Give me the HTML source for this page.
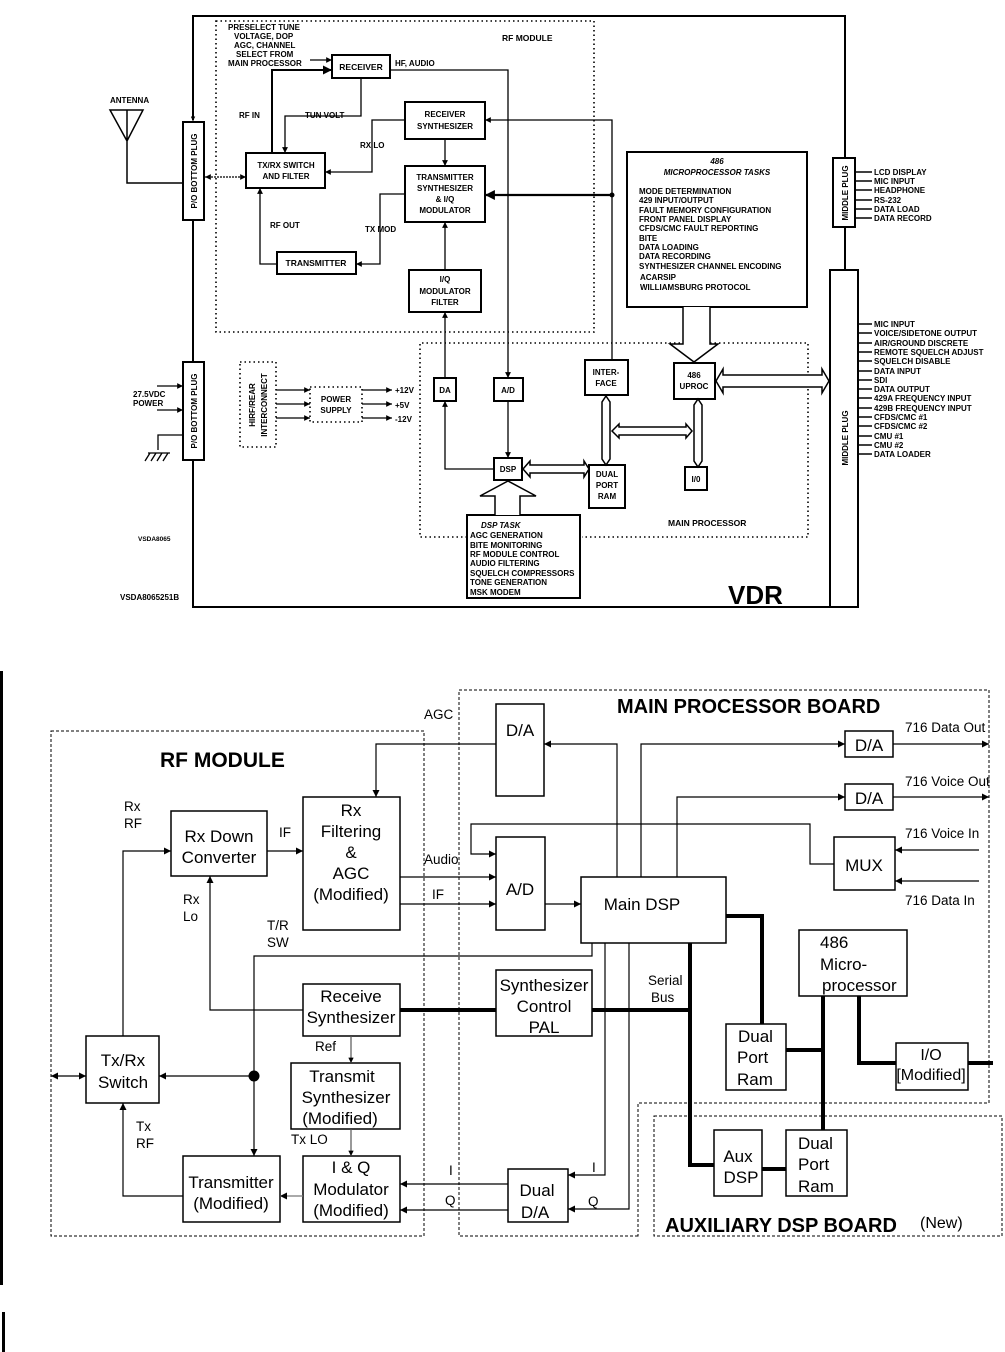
<!DOCTYPE html>
<html><head><meta charset="utf-8"><style>
html,body{margin:0;padding:0;background:#fff}
svg{display:block}
.t{font-family:"Liberation Sans",Arial,sans-serif;font-weight:bold;font-size:8px;fill:#000}
.b{font-family:"Liberation Sans",Arial,sans-serif;fill:#000}
</style></head><body>
<svg width="1005" height="1352" viewBox="0 0 1005 1352" xmlns="http://www.w3.org/2000/svg">
<defs>
<marker id="a" viewBox="0 0 10 10" refX="10" refY="5" markerWidth="6" markerHeight="6" orient="auto-start-reverse"><path d="M0,0L10,5L0,10z"/></marker>
<marker id="s" viewBox="0 0 10 10" refX="10" refY="5" markerWidth="4.5" markerHeight="4.5" orient="auto-start-reverse"><path d="M0,0L10,5L0,10z"/></marker>
</defs>

<!-- ============ TOP DIAGRAM ============ -->
<g fill="none" stroke="#000" stroke-width="2">
<path d="M193,120 V16 H845 V158"/>
<path d="M193,220 V362"/>
<path d="M193,460 V607 H844"/>
<path d="M845,227 V270"/>
</g>
<path d="M193,117 V121" stroke="#000" marker-end="url(#s)"/>
<!-- dotted boxes -->
<g fill="none" stroke="#000" stroke-width="1.6" stroke-dasharray="1.5,3">
<rect x="216" y="21" width="378" height="311"/>
<path d="M467,537 H420 V343 H808 V537 H582"/>
<rect x="310" y="387" width="52" height="35"/>
<rect x="240" y="362" width="36" height="85"/>
</g>
<!-- plugs -->
<g fill="#fff" stroke="#000" stroke-width="2">
<rect x="183" y="122" width="21" height="98"/>
<rect x="183" y="362" width="21" height="98"/>
<rect x="833" y="158" width="22" height="69"/>
<rect x="830" y="270" width="28" height="337"/>
</g>
<g class="t" font-size="9">
<text transform="translate(197,171) rotate(-90)" text-anchor="middle">P/O BOTTOM PLUG</text>
<text transform="translate(197,411) rotate(-90)" text-anchor="middle">P/O BOTTOM PLUG</text>
<text transform="translate(848,193) rotate(-90)" text-anchor="middle">MIDDLE PLUG</text>
<text transform="translate(848,438) rotate(-90)" text-anchor="middle">MIDDLE PLUG</text>
</g>
<text class="t" transform="translate(255,405) rotate(-90)" text-anchor="middle">HIRF/REAR</text>
<text class="t" transform="translate(267,405) rotate(-90)" text-anchor="middle">INTERCONNECT</text>
<!-- antenna -->
<g fill="none" stroke="#000" stroke-width="1.5">
<path d="M110,110 H143 L127,141 Z M127,110 V183 H183"/>
</g>
<text class="t" x="110" y="103">ANTENNA</text>
<!-- boxes -->
<g fill="#fff" stroke="#000" stroke-width="2">
<rect x="332" y="55" width="58" height="23"/>
<rect x="405" y="102" width="80" height="37"/>
<rect x="246" y="153" width="79" height="35"/>
<rect x="405" y="166" width="80" height="56"/>
<rect x="277" y="252" width="79" height="22"/>
<rect x="409" y="270" width="72" height="42"/>
<rect x="434" y="378" width="22" height="23"/>
<rect x="494" y="378" width="29" height="23"/>
<rect x="585" y="360" width="43" height="35"/>
<rect x="674" y="363" width="41" height="36"/>
<rect x="494" y="458" width="28" height="22"/>
<rect x="589" y="465" width="36" height="43"/>
<rect x="685" y="467" width="22" height="23"/>
<rect x="627" y="152" width="180" height="155"/>
<rect x="467" y="515" width="113" height="83"/>
</g>
<g class="t" text-anchor="middle">
<text x="361" y="70" font-size="8.5">RECEIVER</text>
<text x="445" y="117">RECEIVER</text><text x="445" y="129">SYNTHESIZER</text>
<text x="286" y="168">TX/RX SWITCH</text><text x="286" y="179">AND FILTER</text>
<text x="445" y="180">TRANSMITTER</text><text x="445" y="191">SYNTHESIZER</text><text x="445" y="202">&amp; I/Q</text><text x="445" y="213">MODULATOR</text>
<text x="316" y="266" font-size="8.5">TRANSMITTER</text>
<text x="445" y="282">I/Q</text><text x="445" y="294">MODULATOR</text><text x="445" y="305">FILTER</text>
<text x="445" y="393">DA</text><text x="508" y="393">A/D</text>
<text x="606" y="375">INTER-</text><text x="606" y="386">FACE</text>
<text x="694" y="378">486</text><text x="694" y="389">UPROC</text>
<text x="508" y="472">DSP</text>
<text x="607" y="477">DUAL</text><text x="607" y="488">PORT</text><text x="607" y="499">RAM</text>
<text x="696" y="482">I/0</text>
<text x="336" y="402">POWER</text><text x="336" y="413">SUPPLY</text>
<text x="717" y="164" font-style="italic">486</text>
<text x="717" y="175" font-style="italic">MICROPROCESSOR TASKS</text>
</g>
<g class="t" font-size="7.2">
<text x="639" y="194">MODE DETERMINATION</text>
<text x="639" y="203">429 INPUT/OUTPUT</text>
<text x="639" y="213">FAULT MEMORY CONFIGURATION</text>
<text x="639" y="222">FRONT PANEL DISPLAY</text>
<text x="639" y="231">CFDS/CMC FAULT REPORTING</text>
<text x="639" y="241">BITE</text>
<text x="639" y="250">DATA LOADING</text>
<text x="639" y="259">DATA RECORDING</text>
<text x="639" y="269">SYNTHESIZER CHANNEL ENCODING</text>
<text x="640" y="280">ACARSIP</text>
<text x="640" y="290">WILLIAMSBURG PROTOCOL</text>
<text x="481" y="528" font-size="8" font-style="italic">DSP TASK</text>
<text x="470" y="538">AGC GENERATION</text>
<text x="470" y="548">BITE MONITORING</text>
<text x="470" y="557">RF MODULE CONTROL</text>
<text x="470" y="566">AUDIO FILTERING</text>
<text x="470" y="576">SQUELCH COMPRESSORS</text>
<text x="470" y="585">TONE GENERATION</text>
<text x="470" y="595">MSK MODEM</text>
</g>
<!-- top labels -->
<g class="t" font-size="7.5">
<text x="228" y="30">PRESELECT TUNE</text>
<text x="234" y="39">VOLTAGE, DOP</text>
<text x="234" y="48">AGC, CHANNEL</text>
<text x="236" y="57">SELECT FROM</text>
<text x="228" y="66">MAIN PROCESSOR</text>
<text x="395" y="66">HF, AUDIO</text>
<text x="502" y="41" font-size="8.5">RF MODULE</text>
<text x="239" y="118">RF IN</text>
<text x="305" y="118">TUN VOLT</text>
<text x="360" y="148">RX LO</text>
<text x="270" y="228">RF OUT</text>
<text x="365" y="232">TX MOD</text>
<text x="133" y="397">27.5VDC</text>
<text x="133" y="406">POWER</text>
<text x="395" y="393">+12V</text>
<text x="395" y="408">+5V</text>
<text x="395" y="422">-12V</text>
<text x="138" y="541" font-size="6.5">VSDA8065</text>
<text x="120" y="600">VSDA8065251B</text>
<text x="668" y="526" font-size="8.5">MAIN PROCESSOR</text>
</g>
<text class="b" x="728" y="604" font-weight="bold" font-size="26">VDR</text>
<!-- top connectors -->
<g fill="none" stroke="#000" stroke-width="1.3">
<path d="M310,60 H332" marker-end="url(#s)"/>
<path d="M272,153 V70 H332" stroke-width="2" marker-end="url(#s)"/>
<path d="M361,78 V116 H285 V153" marker-end="url(#s)"/>
<path d="M390,70 H508 V378" marker-end="url(#s)"/>
<path d="M405,120 H372 V172 H325" marker-end="url(#s)"/>
<path d="M445,139 V166" marker-end="url(#s)"/>
<path d="M405,194 H380 V264 H356" marker-end="url(#s)"/>
<path d="M277,264 H260 V188" marker-end="url(#s)"/>
<path d="M445,270 V222" marker-end="url(#s)"/>
<path d="M445,378 V312" marker-end="url(#s)"/>
<path d="M612,360 V120 H485" marker-end="url(#s)"/>
<path d="M612,195 H485" stroke-width="2.2" marker-end="url(#s)"/>
<path d="M508,401 V458" marker-end="url(#s)"/>
<path d="M494,469 H445 V401" marker-end="url(#s)"/>
<path d="M205,177 H246" stroke-dasharray="2,1" marker-start="url(#s)" marker-end="url(#s)"/>
<path d="M157,386 H183" marker-end="url(#s)"/>
<path d="M157,410 H183" marker-end="url(#s)"/>
<path d="M183,435 H158 V450"/>
<path d="M276,390 H310" marker-end="url(#s)"/><path d="M276,404 H310" marker-end="url(#s)"/><path d="M276,418 H310" marker-end="url(#s)"/>
<path d="M362,390 H392" marker-end="url(#s)"/><path d="M362,404 H392" marker-end="url(#s)"/><path d="M362,418 H392" marker-end="url(#s)"/>
</g>
<circle cx="612" cy="195" r="2.5"/>
<path d="M148,453 H170 M150,453 L145,461 M156,453 L151,461 M162,453 L157,461 M168,453 L163,461" stroke="#000" stroke-width="1.3"/>
<!-- fat arrows -->
<g fill="#fff" stroke="#000" stroke-width="1.5">
<path d="M683,307 V344 H670 L694,362 L718,344 H710 V307"/>
<path d="M495,515 V496 H480 L508,481 L536,496 H520 V515"/>
<path d="M523,469 L530,461 V465 H584 V461 L589,469 L584,477 V473 H530 V477 Z"/>
<path d="M716,381 L723,369 V375 H822 V369 L829,381 L822,393 V387 H723 V393 Z"/>
<path d="M612,431 L619,424 V427 H686 V424 L692,431 L686,438 V435 H619 V438 Z"/>
<path d="M606,396 L610,402 V459 L606,465 L602,459 V402 Z" />
<path d="M698,399 L702,405 V461 L698,467 L694,461 V405 Z"/>
</g>
<!-- middle plug lines -->
<g stroke="#000" stroke-width="1.5">
<path d="M855,172 H872 M855,181 H872 M855,190 H872 M855,200 H872 M855,209 H872 M855,218 H872"/>
<path d="M858,324 H872 M858,333 H872 M858,343 H872 M858,352 H872 M858,361 H872 M858,371 H872 M858,380 H872 M858,389 H872 M858,398 H872 M858,408 H872 M858,417 H872 M858,426 H872 M858,436 H872 M858,445 H872 M858,454 H872"/>
</g>
<g class="t" font-size="7.3">
<text x="874" y="175">LCD DISPLAY</text><text x="874" y="184">MIC INPUT</text><text x="874" y="193">HEADPHONE</text><text x="874" y="203">RS-232</text><text x="874" y="212">DATA LOAD</text><text x="874" y="221">DATA RECORD</text>
<text x="874" y="327">MIC INPUT</text><text x="874" y="336">VOICE/SIDETONE OUTPUT</text><text x="874" y="346">AIR/GROUND DISCRETE</text><text x="874" y="355">REMOTE SQUELCH ADJUST</text><text x="874" y="364">SQUELCH DISABLE</text><text x="874" y="374">DATA INPUT</text><text x="874" y="383">SDI</text><text x="874" y="392">DATA OUTPUT</text><text x="874" y="401">429A FREQUENCY INPUT</text><text x="874" y="411">429B FREQUENCY INPUT</text><text x="874" y="420">CFDS/CMC #1</text><text x="874" y="429">CFDS/CMC #2</text><text x="874" y="439">CMU #1</text><text x="874" y="448">CMU #2</text><text x="874" y="457">DATA LOADER</text>
</g>

<!-- ============ BOTTOM DIAGRAM ============ -->
<rect x="0" y="671" width="3" height="614" fill="#000"/>
<rect x="2" y="1312" width="3" height="40" fill="#000"/>
<g fill="none" stroke="#000" stroke-width="1" stroke-dasharray="3,2">
<rect x="51" y="731" width="373" height="505"/>
<path d="M638,1236 H459 V690 H989 V1103 H638 Z"/>
<rect x="654" y="1116" width="348" height="120"/>
</g>
<g fill="#fff" stroke="#000" stroke-width="1.5">
<rect x="496" y="704" width="48" height="92"/>
<rect x="171" y="811" width="96" height="65"/>
<rect x="303" y="797" width="97" height="133"/>
<rect x="496" y="837" width="49" height="93"/>
<rect x="581" y="877" width="145" height="66"/>
<rect x="845" y="731" width="48" height="26"/>
<rect x="845" y="784" width="48" height="26"/>
<rect x="834" y="837" width="61" height="53"/>
<rect x="799" y="930" width="108" height="66"/>
<rect x="496" y="970" width="96" height="66"/>
<rect x="303" y="984" width="97" height="52"/>
<rect x="86" y="1036" width="73" height="67"/>
<rect x="291" y="1063" width="109" height="66"/>
<rect x="726" y="1024" width="60" height="66"/>
<rect x="896" y="1043" width="72" height="47"/>
<rect x="183" y="1156" width="97" height="66"/>
<rect x="303" y="1156" width="97" height="66"/>
<rect x="508" y="1169" width="60" height="53"/>
<rect x="714" y="1130" width="48" height="66"/>
<rect x="786" y="1130" width="61" height="66"/>
</g>
<!-- thin connectors -->
<g fill="none" stroke="#000" stroke-width="1.2">
<path d="M496,744 H376 V797" marker-end="url(#a)"/>
<path d="M617,877 V744 H544" marker-end="url(#a)"/>
<path d="M641,877 V744 H845" marker-end="url(#a)"/>
<path d="M893,744 H989" marker-end="url(#a)"/>
<path d="M677,877 V797 H845" marker-end="url(#a)"/>
<path d="M893,797 H989" marker-end="url(#a)"/>
<path d="M834,864 H810 V824 H471 V854 H496" marker-end="url(#a)"/>
<path d="M979,850 H895" marker-end="url(#a)"/>
<path d="M979,881 H895" marker-end="url(#a)"/>
<path d="M400,877 H496" marker-end="url(#a)"/>
<path d="M400,904 H496" marker-end="url(#a)"/>
<path d="M545,904 H581" marker-end="url(#a)"/>
<path d="M267,851 H303" marker-end="url(#a)"/>
<path d="M123,1036 V851 H171" marker-end="url(#a)"/>
<path d="M303,1010 H210 V876" marker-end="url(#a)"/>
<path d="M592,943 V956 H254 V1156" marker-end="url(#a)"/>
<path d="M254,1076 H159" marker-end="url(#a)"/>
<path d="M69,1076 H86" marker-end="url(#a)"/>
<path d="M69,1076 H51" marker-end="url(#a)"/>
<path d="M183,1196 H123 V1103" marker-end="url(#a)"/>
<path d="M303,1196 H280" stroke="#777" marker-end="url(#a)"/>
<path d="M351,1036 V1063" stroke="#555" marker-end="url(#s)"/>
<path d="M351,1129 V1156" stroke="#555" marker-end="url(#s)"/>
<path d="M508,1184 H400" marker-end="url(#a)"/>
<path d="M508,1210 H400" marker-end="url(#a)"/>
<path d="M605,943 V1175 H568" marker-end="url(#a)"/>
<path d="M629,943 V1209 H568" marker-end="url(#a)"/>
</g>
<circle cx="254" cy="1076" r="5.5"/>
<!-- thick buses -->
<g fill="none" stroke="#000" stroke-width="4">
<path d="M400,1010 H496"/>
<path d="M592,1010 H690"/>
<path d="M690,943 V1165 H714"/>
<path d="M726,916 H762 V1024"/>
<path d="M786,1050 H823"/>
<path d="M823,996 V1130"/>
<path d="M859,996 V1063 H896"/>
<path d="M968,1063 H993"/>
<path d="M762,1169 H786"/>
</g>
<!-- bottom text -->
<g class="b" font-size="17" text-anchor="middle">
<text x="520" y="736">D/A</text>
<text x="219" y="842">Rx Down</text><text x="219" y="863">Converter</text>
<text x="351" y="816">Rx</text><text x="351" y="837">Filtering</text><text x="351" y="858">&amp;</text><text x="351" y="879">AGC</text><text x="351" y="900">(Modified)</text>
<text x="520" y="895">A/D</text>
<text x="642" y="910" >Main DSP</text>
<text x="869" y="751">D/A</text><text x="869" y="804">D/A</text>
<text x="864" y="871">MUX</text>
<text x="544" y="991">Synthesizer</text><text x="544" y="1012">Control</text><text x="544" y="1033">PAL</text>
<text x="351" y="1002">Receive</text><text x="351" y="1023">Synthesizer</text>
<text x="123" y="1066">Tx/Rx</text><text x="123" y="1088">Switch</text>
<text x="342" y="1082">Transmit</text><text x="346" y="1103">Synthesizer</text><text x="340" y="1124">(Modified)</text>
<text x="231" y="1188">Transmitter</text><text x="231" y="1209">(Modified)</text>
<text x="351" y="1173">I &amp; Q</text><text x="351" y="1195">Modulator</text><text x="351" y="1216">(Modified)</text>
<text x="537" y="1196">Dual</text><text x="535" y="1218">D/A</text>
<text x="738" y="1162">Aux</text><text x="741" y="1183">DSP</text>
<text x="931" y="1060" font-size="16">I/O</text><text x="931" y="1080" font-size="16">[Modified]</text>
</g>
<g class="b" font-size="17">
<text x="820" y="948">486</text><text x="820" y="970">Micro-</text><text x="822" y="991">processor</text>
<text x="738" y="1042">Dual</text><text x="737" y="1063">Port</text><text x="737" y="1085">Ram</text>
<text x="798" y="1149">Dual</text><text x="798" y="1170">Port</text><text x="798" y="1192">Ram</text>
</g>
<g class="b" font-size="13.5">
<text x="424" y="719">AGC</text>
<text x="124" y="811">Rx</text><text x="124" y="828">RF</text>
<text x="279" y="837">IF</text>
<text x="183" y="904">Rx</text><text x="183" y="921">Lo</text>
<text x="267" y="930">T/R</text><text x="267" y="947">SW</text>
<text x="424" y="864">Audio</text>
<text x="432" y="899">IF</text>
<text x="315" y="1051">Ref</text>
<text x="291" y="1144">Tx LO</text>
<text x="136" y="1131">Tx</text><text x="136" y="1148">RF</text>
<text x="449" y="1175">I</text><text x="445" y="1205">Q</text>
<text x="592" y="1172">I</text><text x="588" y="1206">Q</text>
<text x="648" y="985">Serial</text><text x="651" y="1002">Bus</text>
<text x="905" y="732">716 Data Out</text>
<text x="905" y="786">716 Voice Out</text>
<text x="905" y="838">716 Voice In</text>
<text x="905" y="905">716 Data In</text>
<text x="920" y="1228" font-size="16">(New)</text>
</g>
<g class="b" font-weight="bold" font-size="21">
<text x="160" y="767">RF MODULE</text>
<text x="617" y="713" font-size="20">MAIN PROCESSOR BOARD</text>
<text x="665" y="1232" font-size="20">AUXILIARY DSP BOARD</text>
</g>
</svg>
</body></html>
